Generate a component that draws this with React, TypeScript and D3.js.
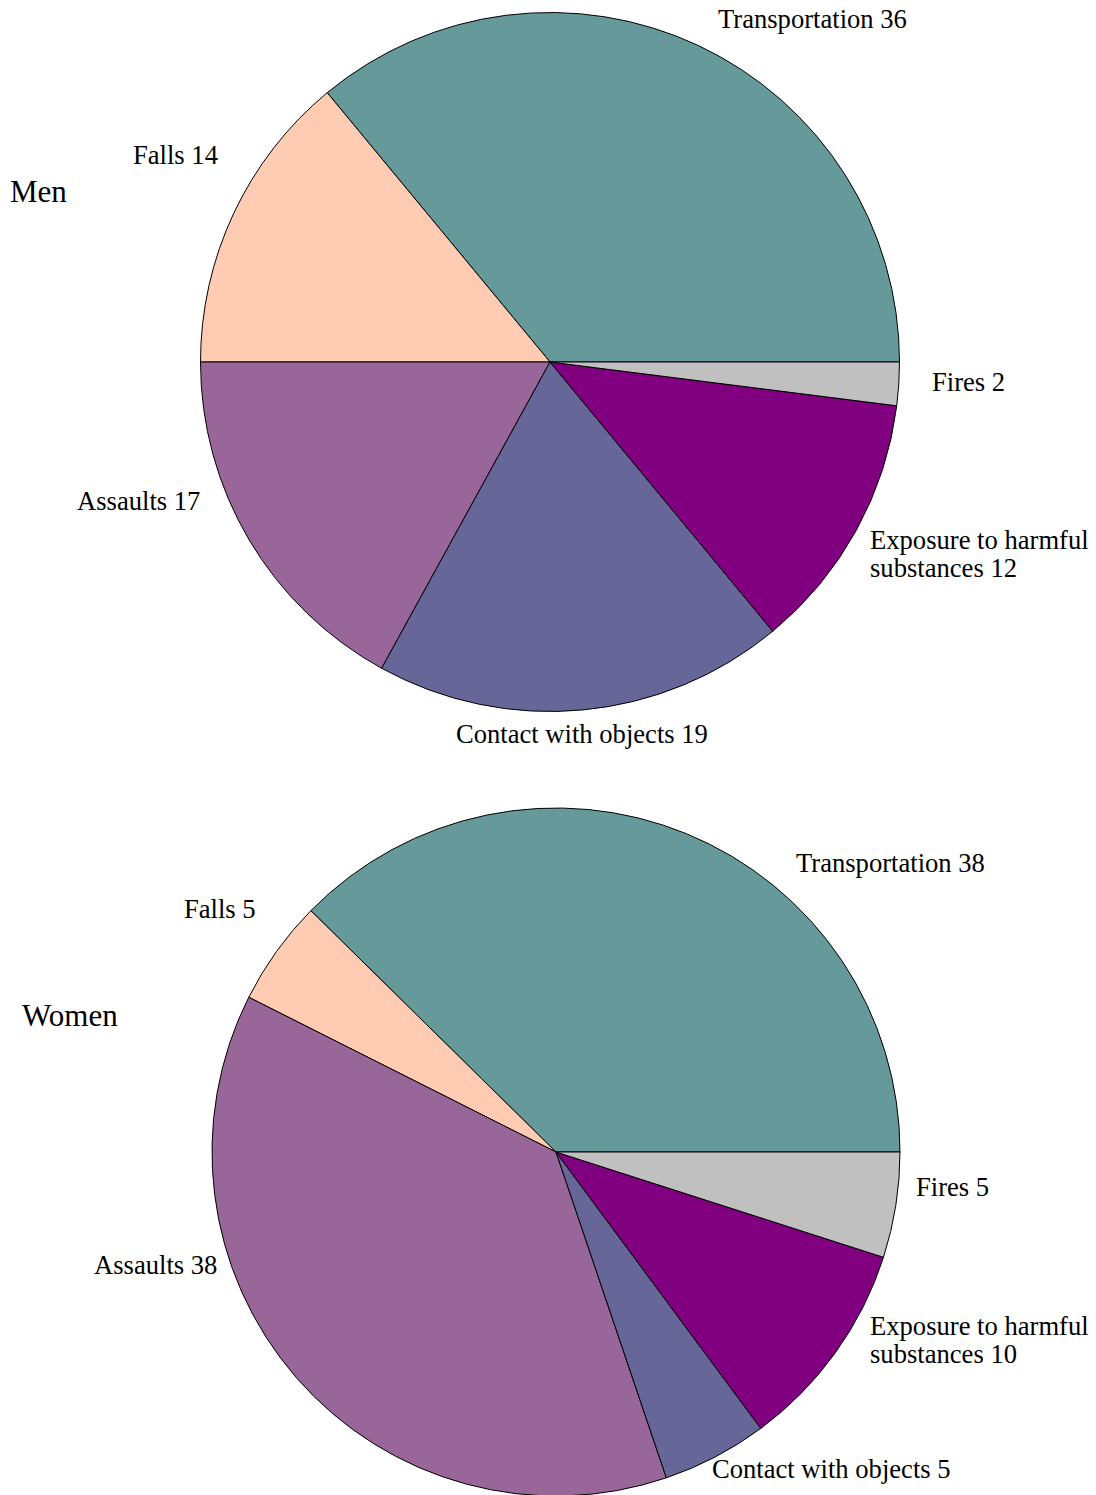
import React from "react";
import * as d3 from "d3";

const categories = [
  "Transportation",
  "Falls",
  "Assaults",
  "Contact with objects",
  "Exposure to harmful substances",
  "Fires",
];
const menValues = [36, 14, 17, 19, 12, 2];
const womenValues = [38, 5, 38, 5, 10, 5];
const colors = ["#669999", "#FFCBB3", "#996699", "#666699", "#800080", "#C0C0C0"];

type LabelPos = { x: number; y: number; lines?: string[] };

// label layout (baseline positions) relative to page
const menLabels: LabelPos[] = [
  { x: 718, y: 28 },
  { x: 133, y: 164 },
  { x: 77, y: 510 },
  { x: 456, y: 743 },
  { x: 870, y: 549, lines: ["Exposure to harmful", "substances"] },
  { x: 932, y: 391 },
];
const womenLabels: LabelPos[] = [
  { x: 796, y: 872 },
  { x: 184, y: 918 },
  { x: 94, y: 1274 },
  { x: 712, y: 1478 },
  { x: 870, y: 1335, lines: ["Exposure to harmful", "substances"] },
  { x: 916, y: 1196 },
];

const FONT = "'Liberation Serif', 'Times New Roman', serif";

function Pie({
  values,
  cx,
  cy,
  r,
  labels,
  title,
  titleX,
  titleY,
}: {
  values: number[];
  cx: number;
  cy: number;
  r: number;
  labels: LabelPos[];
  title: string;
  titleX: number;
  titleY: number;
}) {
  const pie = d3
    .pie<number>()
    .sort(null)
    .value((d) => d)
    .startAngle(Math.PI / 2)
    .endAngle(Math.PI / 2 - 2 * Math.PI);
  const arcs = pie(values);
  const arc = d3.arc<d3.PieArcDatum<number>>().innerRadius(0).outerRadius(r);
  return (
    <g>
      <g transform={`translate(${cx},${cy})`}>
        {arcs.map((a, i) => (
          <path
            key={i}
            d={arc(a) || ""}
            fill={colors[i]}
            stroke="#000"
            strokeWidth={1}
            strokeLinejoin="round"
          />
        ))}
      </g>
      {arcs.map((a, i) => {
        const lp = labels[i];
        const lines = lp.lines
          ? [lp.lines[0], `${lp.lines[1]} ${values[i]}`]
          : [`${categories[i]} ${values[i]}`];
        return (
          <text
            key={i}
            x={lp.x}
            y={lp.y}
            fontFamily={FONT}
            fontSize={26.6}
            fill="#000"
          >
            {lines.map((t, j) => (
              <tspan key={j} x={lp.x} dy={j === 0 ? 0 : 27.5}>
                {t}
              </tspan>
            ))}
          </text>
        );
      })}
      <text x={titleX} y={titleY} fontFamily={FONT} fontSize={31} fill="#000">
        {title}
      </text>
    </g>
  );
}

export default function App() {
  return (
    <svg
      width={1096}
      height={1495}
      style={{ position: "absolute", left: 0, top: 0, background: "#fff" }}
    >
      <rect width={1096} height={1495} fill="#fff" />
      <Pie
        values={menValues}
        cx={550}
        cy={362}
        r={349.5}
        labels={menLabels}
        title="Men"
        titleX={10}
        titleY={202}
      />
      <Pie
        values={womenValues}
        cx={556}
        cy={1152}
        r={344}
        labels={womenLabels}
        title="Women"
        titleX={22}
        titleY={1026}
      />
    </svg>
  );
}
